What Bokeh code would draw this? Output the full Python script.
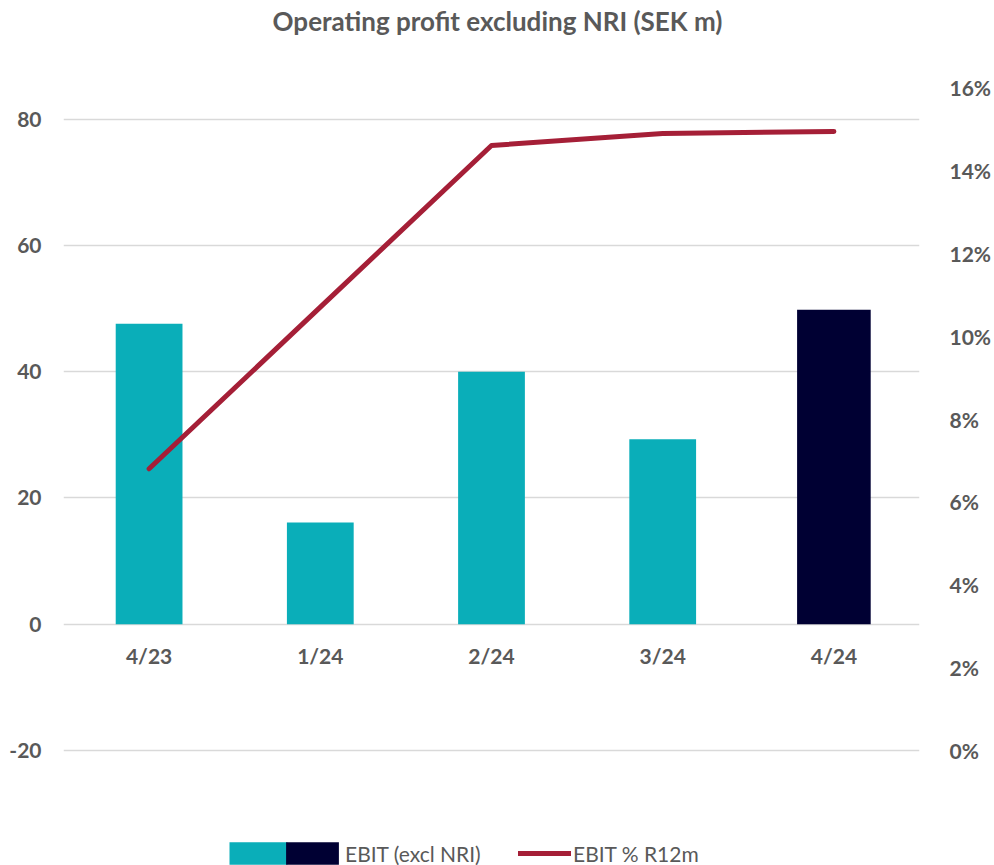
from bokeh.plotting import figure
from bokeh.models import (Range1d, LinearAxis, FixedTicker, NumeralTickFormatter,
                          PrintfTickFormatter, FactorRange, ColumnDataSource,
                          Legend, LegendItem, BoxAnnotation, Label)
from bokeh.embed import file_html
from bokeh.resources import INLINE

# ---- data ----
quarters = ["4/23", "1/24", "2/24", "3/24", "4/24"]
ebit = [47.6, 16.1, 40.0, 29.3, 49.8]
ebit_pct = [0.068, 0.107, 0.146, 0.1489, 0.1494]
left_ticks = [-20, 0, 20, 40, 60, 80]
right_ticks = [0, 0.02, 0.04, 0.06, 0.08, 0.10, 0.12, 0.14, 0.16]

TEAL = "#0aaeb9"
NAVY = "#000033"
RED = "#a51f37"
TXT = "#595959"
FONT = "Lato"

# ---- layout (pixels) ----
W, H = 994, 865
TOP, AXIS_BOTTOM = 87, 750          # 85 / 16% at TOP, -20 / 0% at AXIS_BOTTOM
LEFT, RIGHT = 63, 928
px_per_unit = (AXIS_BOTTOM - TOP) / 105.0
px_per_pct = (AXIS_BOTTOM - TOP) / 0.16
extra_bottom = H - AXIS_BOTTOM      # frame extends down to host the legend
extra_top = TOP                     # and up to host the title

BAR_W, BAR_W_LAST = 0.39, 0.43
bar_colors = [TEAL] * (len(quarters) - 1) + [NAVY]
bar_widths = [BAR_W] * (len(quarters) - 1) + [BAR_W_LAST]
src = ColumnDataSource(dict(q=quarters, ebit=ebit, pct=ebit_pct, color=bar_colors,
                            w=bar_widths))

p = figure(width=W, height=H, x_range=FactorRange(factors=quarters, range_padding=0),
           y_range=Range1d(-20 - extra_bottom / px_per_unit, 85 + extra_top / px_per_unit),
           output_backend="svg", toolbar_location=None,
           min_border_left=LEFT, min_border_right=W - RIGHT, min_border_top=0,
           min_border_bottom=0)
p.outline_line_color = None
p.background_fill_color = "white"
p.border_fill_color = "white"

p.extra_y_ranges = {"pct": Range1d(-extra_bottom / px_per_pct, 0.16 + extra_top / px_per_pct)}

r_bars = p.vbar(x="q", top="ebit", bottom=0, width="w", source=src, fill_color="color",
                line_color=None)
r_line = p.line(x="q", y="pct", source=src, y_range_name="pct", line_color=RED,
                line_width=5, line_cap="round", line_join="round")

# axes
p.xaxis.fixed_location = 0
for ax in p.xaxis:
    ax.axis_line_color = None
    ax.major_tick_line_color = None
    ax.minor_tick_line_color = None
    ax.major_label_text_font = FONT
    ax.major_label_text_font_size = "21px"
    ax.major_label_text_font_style = "bold"
    ax.major_label_text_color = TXT
    ax.major_label_standoff = 13

yl = p.yaxis[0]
yl.ticker = FixedTicker(ticks=left_ticks)
yl.formatter = PrintfTickFormatter(format="%d")
yl.axis_line_color = None
yl.major_tick_line_color = None
yl.minor_tick_line_color = None
yl.major_label_text_font = FONT
yl.major_label_text_font_size = "21px"
yl.major_label_text_font_style = "bold"
yl.major_label_text_color = TXT
yl.major_label_standoff = 16

yr = LinearAxis(y_range_name="pct", ticker=FixedTicker(ticks=right_ticks),
                formatter=NumeralTickFormatter(format="0%"))
yr.axis_line_color = None
yr.major_tick_line_color = None
yr.minor_tick_line_color = None
yr.major_label_text_font = FONT
yr.major_label_text_font_size = "21px"
yr.major_label_text_font_style = "bold"
yr.major_label_text_color = TXT
yr.major_label_standoff = 24
p.add_layout(yr, "right")

p.xgrid.grid_line_color = None
p.ygrid.ticker = FixedTicker(ticks=left_ticks)
p.ygrid.grid_line_color = "#d9d9d9"
p.ygrid.grid_line_width = 1.5

# title
p.add_layout(Label(x=497 - LEFT, y=H - 20, x_units="screen", y_units="screen",
                   text="Operating profit excluding NRI (SEK m)", text_align="center",
                   text_baseline="middle", text_font=FONT, text_font_size="26px",
                   text_font_style="bold", text_color=TXT))

# legend: teal half of the two-tone swatch, then the Bokeh legends
# (Bokeh insets area swatches by 10% of the glyph box on every side)
LEG_Y = -2
GW, GH = 66, 28
inset_x, inset_y = GW * 0.1, GH * 0.1
dark_left = 286
p.add_layout(BoxAnnotation(left=229 - LEFT, right=dark_left + 1 - LEFT,
                           bottom=LEG_Y + inset_y, top=LEG_Y + GH - inset_y,
                           left_units="screen", right_units="screen",
                           bottom_units="screen", top_units="screen",
                           fill_color=TEAL, fill_alpha=1, line_color=None))


def mk_legend(items, x, gw, gh, standoff):
    lg = Legend(items=items, location=(int(round(x)), LEG_Y), glyph_width=gw,
                glyph_height=gh, label_standoff=int(round(standoff)), padding=0,
                margin=0, spacing=0, border_line_color=None, background_fill_alpha=0,
                label_text_font=FONT, label_text_font_size="21px",
                label_text_color=TXT, label_height=gh, label_width=0)
    p.add_layout(lg, "center")


box_x = round(dark_left - inset_x)
mk_legend([LegendItem(label="EBIT (excl NRI)", renderers=[r_bars], index=len(quarters) - 1)],
          box_x - LEFT, GW, GH, 342 - (box_x + GW))
mk_legend([LegendItem(label="EBIT % R12m", renderers=[r_line])], 518 - LEFT, 53, GH, 2)

open("out.html", "w").write(file_html(p, INLINE))
